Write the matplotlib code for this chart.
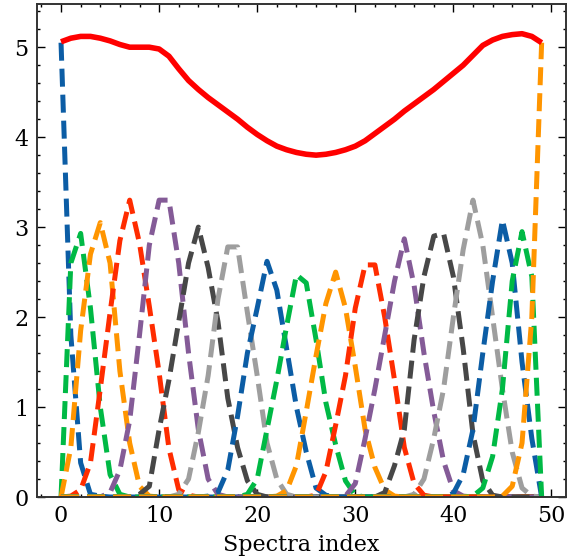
import numpy as np
import matplotlib
matplotlib.use("Agg")
import matplotlib.pyplot as plt
from matplotlib.ticker import AutoMinorLocator

plt.rcParams['font.family'] = 'serif'
plt.rcParams['font.serif'] = ['DejaVu Serif']

# spectra index axis
n_spectra = 50

# each basis curve: first index where it is drawn, then its values (zeros elsewhere)
b01_start, b01 = 0, [5.05, 1.8, 0.38, 0.03, 0.01, 0.0]
b02_start, b02 = 0, [0.0, 2.6, 2.93, 2.1, 1.0, 0.25, 0.03]
b03_start, b03 = 0, [0.0, 0.55, 1.85, 2.7, 3.05, 2.6, 1.4, 0.6, 0.12, 0.01]
b04_start, b04 = 0, [0.0, 0.01, 0.08, 0.38, 1.2, 2.05, 2.85, 3.3, 2.82, 2.12, 1.38, 0.54, 0.08, 0.02]
b05_start, b05 = 4, [0.0, 0.05, 0.3, 0.85, 1.8, 2.8, 3.3, 3.3, 2.6, 1.6, 0.75, 0.2, 0.03]
b06_start, b06 = 7, [0.0, 0.03, 0.12, 0.75, 1.3, 1.95, 2.6, 3.0, 2.55, 1.95, 1.1, 0.55, 0.18, 0.03]
b07_start, b07 = 11, [0.0, 0.03, 0.2, 0.72, 1.35, 2.2, 2.78, 2.78, 2.05, 1.35, 0.6, 0.2, 0.03]
b08_start, b08 = 14, [0.0, 0.01, 0.05, 0.3, 0.9, 1.6, 2.1, 2.62, 2.3, 1.65, 1.0, 0.5, 0.1, 0.02]
b09_start, b09 = 18, [0.0, 0.03, 0.2, 0.75, 1.3, 1.9, 2.47, 2.38, 1.75, 1.05, 0.58, 0.18, 0.02]
b10_start, b10 = 21, [0.0, 0.01, 0.07, 0.35, 0.95, 1.57, 2.15, 2.5, 2.1, 1.45, 0.75, 0.33, 0.08, 0.01]
b11_start, b11 = 25, [0.0, 0.02, 0.28, 0.8, 1.35, 2.1, 2.58, 2.58, 2.0, 1.3, 0.55, 0.15, 0.02]
b12_start, b12 = 28, [0.0, 0.01, 0.15, 0.65, 1.2, 1.8, 2.4, 2.87, 2.35, 1.6, 0.95, 0.4, 0.07, 0.01]
b13_start, b13 = 32, [0.0, 0.05, 0.35, 0.75, 1.75, 2.45, 2.9, 2.93, 2.45, 1.65, 0.7, 0.18, 0.02]
b14_start, b14 = 35, [0.0, 0.03, 0.2, 0.65, 1.2, 2.0, 2.75, 3.3, 2.8, 2.0, 1.2, 0.5, 0.1, 0.01]
b15_start, b15 = 39, [0.0, 0.04, 0.25, 0.75, 1.6, 2.4, 3.08, 2.6, 1.5, 0.65, 0.0]
b16_start, b16 = 41, [0.0, 0.01, 0.1, 0.45, 1.2, 2.4, 2.95, 2.45, 0.0]
b17_start, b17 = 44, [0.0, 0.01, 0.12, 0.6, 2.0, 5.05]

# total (solid red)
total = [5.06, 5.10, 5.12, 5.12, 5.10, 5.07, 5.03, 5.00, 5.00, 5.00,
         4.98, 4.90, 4.76, 4.63, 4.53, 4.44, 4.36, 4.28, 4.20, 4.11,
         4.03, 3.96, 3.90, 3.86, 3.83, 3.81, 3.80, 3.81, 3.83, 3.86,
         3.90, 3.96, 4.04, 4.12, 4.20, 4.29, 4.37, 4.45, 4.53, 4.62,
         4.71, 4.80, 4.91, 5.02, 5.08, 5.12, 5.14, 5.15, 5.12, 5.05]

colors = ['#0C5DA5', '#00B945', '#FF9500', '#FF2C00', '#845B97', '#474747', '#9e9e9e']

basis = [(b01_start, b01), (b02_start, b02), (b03_start, b03), (b04_start, b04),
         (b05_start, b05), (b06_start, b06), (b07_start, b07), (b08_start, b08),
         (b09_start, b09), (b10_start, b10), (b11_start, b11), (b12_start, b12),
         (b13_start, b13), (b14_start, b14), (b15_start, b15), (b16_start, b16),
         (b17_start, b17)]

x = np.arange(n_spectra)

fig = plt.figure(figsize=(5.8, 5.58), dpi=100)
ax = fig.add_axes([0.0638, 0.1093, 0.9753 - 0.0638, 0.9928 - 0.1093])

for i, (s, vals) in enumerate(basis):
    y = np.zeros(n_spectra)
    y[s:s + len(vals)] = vals
    ax.plot(x, y, color=colors[i % len(colors)], lw=3.6, linestyle=(0, (3.6, 1.6)))

ax.plot(x, total, color='red', lw=4.0, solid_capstyle='butt')

ax.set_xlim(-2.45, 51.45)
ax.set_ylim(0, 5.48)
ax.set_xticks([0, 10, 20, 30, 40, 50])
ax.set_yticks([0, 1, 2, 3, 4, 5])
ax.xaxis.set_minor_locator(AutoMinorLocator(5))
ax.yaxis.set_minor_locator(AutoMinorLocator(5))
ax.tick_params(which='both', direction='in', top=True, right=True, labelsize=16, width=1.0)
ax.tick_params(which='major', length=5.5, pad=6)
ax.tick_params(which='minor', length=2.4)
for sp in ax.spines.values():
    sp.set_linewidth(1.4)
    sp.set_color('#333333')

ax.set_xlabel('Spectra index', fontsize=16, labelpad=5)

fig.savefig('out.png', dpi=100)
